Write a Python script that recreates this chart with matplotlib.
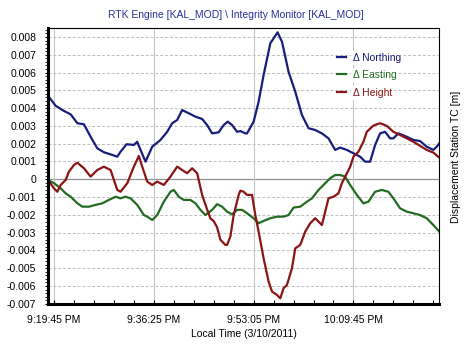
import numpy as np
import matplotlib
matplotlib.use("Agg")
from matplotlib import pyplot as plt
from matplotlib.ticker import FuncFormatter, MultipleLocator

plt.rcParams['font.family'] = ['Liberation Sans', 'DejaVu Sans']

# time in seconds after 9:19:45 PM, displacements in mm
north_t = [-60, 17, 100, 167, 234, 300, 367, 434, 500, 567, 634, 667, 727, 800, 834, 867,
           917, 984, 1067, 1134, 1184, 1234, 1284, 1350, 1417, 1484, 1534, 1584, 1650, 1700,
           1740, 1784, 1834, 1867, 1917, 1934, 2000, 2050, 2100, 2167, 2240, 2284, 2350, 2417,
           2484, 2550, 2617, 2684, 2750, 2817, 2867, 2934, 3000, 3067, 3117, 3167, 3217, 3267,
           3317, 3367, 3400, 3450, 3534, 3600, 3667, 3734, 3800, 3834, 3860]
north_v = [4.70, 4.13, 3.84, 3.65, 3.15, 3.09, 2.39, 1.74, 1.52, 1.40, 1.27, 1.55, 1.97, 1.93, 2.11, 1.65,
           0.99, 1.83, 2.21, 2.67, 3.15, 3.33, 3.89, 3.71, 3.52, 3.39, 3.05, 2.58, 2.64, 3.05,
           3.24, 3.05, 2.67, 2.71, 2.58, 2.58, 3.24, 4.36, 5.86, 7.64, 8.26, 7.73, 6.04, 4.92,
           3.61, 2.87, 2.77, 2.58, 2.30, 1.65, 1.78, 1.65, 1.46, 1.27, 0.99, 0.99, 1.93, 2.58,
           2.67, 2.30, 2.30, 2.58, 2.39, 2.21, 2.15, 1.83, 1.65, 1.83, 2.02]

east_t = [-60, 0, 67, 117, 167, 234, 284, 350, 417, 484, 550, 617, 667, 717, 767, 834,
          867, 900, 934, 984, 1034, 1100, 1167, 1200, 1250, 1300, 1367, 1417, 1467, 1517,
          1584, 1634, 1684, 1734, 1784, 1834, 1884, 1934, 2000, 2050, 2100, 2167, 2234, 2300,
          2350, 2400, 2467, 2534, 2584, 2650, 2700, 2767, 2817, 2867, 2917, 2967, 3034, 3100,
          3150, 3217, 3284, 3350, 3400, 3467, 3534, 3600, 3667, 3734, 3800, 3860]
east_v = [-0.04, -0.22, -0.51, -0.79, -0.98, -1.35, -1.54, -1.54, -1.44, -1.35, -1.16, -0.98, -1.07, -0.98, -1.07, -1.44,
          -1.72, -2.01, -2.10, -2.29, -2.01, -1.26, -0.70, -0.60, -0.98, -1.16, -1.16, -1.35, -1.72, -2.01,
          -1.72, -1.40, -1.54, -1.82, -1.97, -1.72, -1.72, -1.91, -2.19, -2.47, -2.34, -2.19, -2.10, -2.10,
          -2.01, -1.59, -1.54, -1.26, -1.07, -0.60, -0.32, 0.06, 0.24, 0.24, 0.15, -0.32, -0.88, -1.35,
          -1.26, -0.70, -0.60, -0.70, -1.07, -1.63, -1.82, -1.91, -2.01, -2.19, -2.57, -2.94]

height_t = [-60, 0, 34, 67, 117, 150, 200, 234, 300, 367, 434, 500, 567, 634, 667, 734,
            800, 850, 884, 934, 984, 1034, 1100, 1167, 1234, 1284, 1334, 1384, 1434, 1484,
            1534, 1567, 1600, 1634, 1667, 1717, 1734, 1767, 1800, 1850, 1867, 1900, 1934, 1984,
            2017, 2050, 2100, 2150, 2184, 2234, 2267, 2300, 2334, 2384, 2417, 2467, 2517, 2567,
            2617, 2650, 2684, 2717, 2750, 2800, 2850, 2884, 2917, 2967, 3000, 3050, 3100, 3134,
            3200, 3267, 3334, 3400, 3467, 3534, 3600, 3667, 3734, 3800, 3860]
height_v = [-0.04, -0.51, -0.70, -0.32, -0.04, 0.43, 0.80, 0.93, 0.62, 0.15, 0.52, 0.71, 0.52, -0.60, -0.70, -0.22,
            0.71, 1.31, 0.71, -0.13, -0.32, -0.13, -0.32, 0.15, 0.71, 0.52, 0.34, 0.62, 0.34, -0.88,
            -1.70, -2.20, -2.35, -2.70, -3.40, -3.69, -3.69, -3.22, -2.01, -0.88, -0.64, -0.70, -0.88, -0.88,
            -2.01, -2.94, -4.44, -5.75, -6.31, -6.50, -6.69, -6.12, -5.94, -5.00, -3.88, -3.69, -2.94, -2.47,
            -2.19, -2.38, -2.57, -1.82, -1.07, -0.98, -0.79, -0.22, 0.15, 0.70, 1.27, 1.55, 2.11, 2.67,
            3.02, 3.15, 3.00, 2.67, 2.49, 2.30, 2.11, 1.88, 1.65, 1.50, 1.22]

yticks = np.round(np.arange(-0.007, 0.0081, 0.001), 3)
start_clock = 21 * 3600 + 19 * 60 + 45

c_north = '#181c7c'
c_east = '#236b23'
c_height = '#8b1414'


def clock(t, pos=None):
    s = int(round(start_clock + t))
    h, m, sec = s // 3600, (s // 60) % 60, s % 60
    ampm = 'PM' if h >= 12 else 'AM'
    h12 = h % 12 or 12
    return '%d:%02d:%02d %s' % (h12, m, sec, ampm)


def ylab(v, pos=None):
    if abs(v) < 1e-12:
        return '0'
    return '%.3f' % v


fig = plt.figure(figsize=(4.72, 3.49), dpi=100)
ax = fig.add_axes([48 / 472, 1 - 304 / 349, 391.3 / 472, 276.3 / 349])

ax.plot(north_t, np.array(north_v) * 1e-3, color=c_north, lw=1.6, label='Δ Northing')
ax.plot(east_t, np.array(east_v) * 1e-3, color=c_east, lw=1.6, label='Δ Easting')
ax.plot(height_t, np.array(height_v) * 1e-3, color=c_height, lw=1.6, label='Δ Height')

ax.set_xlim(-60, 3860)
ax.set_ylim(-0.00701, 0.00852)

ax.set_yticks(yticks)
ax.yaxis.set_major_formatter(FuncFormatter(ylab))
ax.yaxis.set_minor_locator(MultipleLocator(0.0002))
ax.xaxis.set_major_locator(MultipleLocator(1000))
ax.xaxis.set_minor_locator(MultipleLocator(200))
ax.xaxis.set_major_formatter(FuncFormatter(clock))

ax.tick_params(axis='x', which='both', direction='in', length=3, width=0.8,
               labelsize=7.5, pad=8)
ax.tick_params(axis='y', which='major', direction='out', length=2, width=0.8,
               labelsize=7.5, pad=6.5)
ax.tick_params(axis='y', which='minor', direction='out', length=2, width=0.6)

for v in yticks:
    if v == 0:
        ax.axhline(0, color='#909090', lw=0.9, zorder=0)
    else:
        ax.axhline(v, color='#bdbdbd', lw=0.7, ls=(0, (3, 2)), zorder=0)
for t in range(0, 3860, 1000):
    ax.axvline(t, color='#c4c4c4', lw=0.8, zorder=0)

ax.spines['left'].set_linewidth(2.2)
ax.spines['bottom'].set_linewidth(2.2)
ax.spines['top'].set_linewidth(0.8)
ax.spines['right'].set_linewidth(0.8)

ax.set_xlabel('Local Time (3/10/2011)', fontsize=7.5, labelpad=3)
fig.text(236 / 472, 1 - 15 / 349, 'RTK Engine [KAL_MOD] \\ Integrity Monitor [KAL_MOD]',
         ha='center', va='center', fontsize=7.5, color='#2a2f9a')
fig.text(456 / 472, 1 - 157 / 349, 'Displacement Station TC [m]', rotation=90,
         ha='center', va='center', fontsize=7.5)

leg = ax.legend(loc='upper left', bbox_to_anchor=(0.716, 0.94), frameon=False,
                fontsize=7.5, handlelength=0.9, handletextpad=0.65, labelspacing=0.72,
                borderpad=0.3, labelcolor='linecolor')
for txt in leg.get_texts():
    txt.set_bbox(dict(facecolor='white', edgecolor='none', pad=1.5))

fig.savefig('out.png', dpi=100)
